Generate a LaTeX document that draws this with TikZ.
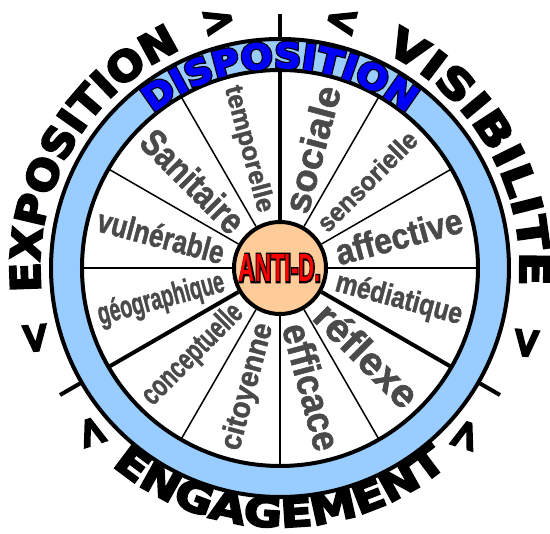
\documentclass[tikz,border=0pt]{standalone}
\usepackage{fontspec}
\usepackage{graphicx}
\usepackage{tikz}
\usetikzlibrary{decorations.text}
\newfontfamily\rimfont[FakeBold=5]{DejaVu Sans Bold}
\newfontfamily\wedgefont[FakeBold=1.5]{Liberation Sans Bold}
\newfontfamily\hubfont{Liberation Sans Bold}
\definecolor{ringblue}{HTML}{99CCFF}
\definecolor{hubfill}{HTML}{FFCC99}
\definecolor{wedgegray}{HTML}{4A4A4A}
\newcommand{\outl}[2]{\rlap{\addfontfeature{FakeBold=9}\color{black}#2}{\color{#1}#2}}

\begin{document}
\begin{tikzpicture}[
  spoke/.style={line width=1.5pt},
  mainspoke/.style={line width=4pt},
  hub/.style={circle, draw, line width=4pt, fill=hubfill, minimum size=92pt, inner sep=0pt},
  wedge/.style={inner sep=0pt, text=wedgegray},
  chevron/.style={font=\rimfont\fontsize{41}{41}\selectfont, inner sep=0pt},
  rimtext/.style={decorate, decoration={text along path, text align=center, text={#1}}},
]
\useasboundingbox (-280pt,-266pt) rectangle (270pt,268pt);
\filldraw[fill=ringblue, line width=4pt, even odd rule] (0,0) circle[radius=229pt] (0,0) circle[radius=198pt];
\node[hub] (anti) at (0,0) {};
\foreach \a in {0,30,60,120,150,180,240,270,300}
  \draw[spoke] (anti.\a) -- (\a:198pt);
\foreach \a in {90,210,330}{
  \draw[mainspoke] (anti.\a) -- (\a:198pt);
  \draw[mainspoke] (\a:229pt) -- (\a:254pt);
}
\node (antilbl) at (anti) {\resizebox{82pt}{27pt}{\hubfont\outl{red}{ANTI-D.}}};

\foreach \nm/\ang/\rot/\hh/\txt in {
  tmp/105/-75/19/temporelle, soc/75/75/27/sociale, sen/45/45/19/sensorielle,
  aff/15/15/26/affective, med/-15/-15/22/médiatique, rfx/-45/-45/29/réflexe,
  eff/-75/-75/28/efficace, cit/-105/75/22/citoyenne, con/-135/45/22/conceptuelle,
  geo/-165/15/23/géographique, vul/165/-15/24/vulnérable, san/135/-45/27/Sanitaire}
  \node[wedge, rotate=\rot] (\nm) at (\ang:123pt) {\resizebox{130pt}{\hh pt}{\wedgefont\txt}};

\path[rimtext={|\rimfont\fontsize{41}{41}\selectfont\addfontfeature{FakeStretch=1.06}|EXPOSITION}]
  (210:240pt) arc[start angle=210, end angle=90, radius=240pt];
\path[rimtext={|\rimfont\fontsize{41}{41}\selectfont\addfontfeature{FakeStretch=1.22}|VISIBILITE}]
  (90:240pt) arc[start angle=90, end angle=-30, radius=240pt];
\path[rimtext={|\rimfont\fontsize{40}{40}\selectfont\addfontfeature{FakeStretch=1.17}|ENGAGEMENT}]
  (210:259pt) arc[start angle=210, end angle=330, radius=259pt];
\path[rimtext={|\rimfont\fontsize{35}{35}\selectfont\addfontfeature{FakeStretch=1.07,FakeBold=10}\color{black}|DISPOSITION}]
  (150:200pt) arc[start angle=150, end angle=30, radius=200pt];
\path[rimtext={|\rimfont\fontsize{35}{35}\selectfont\addfontfeature{FakeStretch=1.07,FakeBold=3}\color{blue}|DISPOSITION}]
  (150:200pt) arc[start angle=150, end angle=30, radius=200pt];

\node[chevron, rotate=95] (expa) at (196:254pt) {<};
\node[chevron, rotate=14] (expb) at (104:254pt) {>};
\node[chevron, rotate=-14] (visa) at (76:254pt) {<};
\node[chevron, rotate=-95] (visb) at (-17:257pt) {>};
\node[chevron, rotate=-72] (enga) at (221:250pt) {<};
\node[chevron, rotate=72] (engb) at (318:250pt) {>};
\end{tikzpicture}
\end{document}
